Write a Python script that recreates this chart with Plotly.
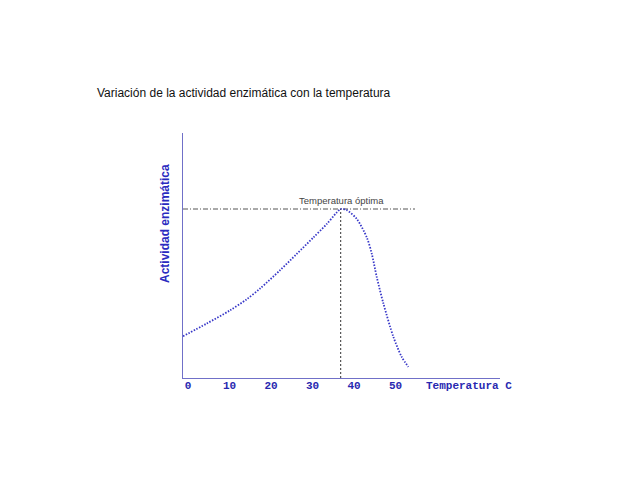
import plotly.graph_objects as go

# Data
temperatura = [0, 5.7, 11.3, 15.3, 18.6, 23.4, 27.4, 31.4, 34.6, 37.0, 38.0, 39.5, 41.9, 44.3, 45.5, 46.7, 48.3, 50.7, 52.7, 54.3]
actividad = [24.7, 32.2, 40.0, 46.5, 53.0, 63.8, 73.4, 83.1, 91.0, 97.8, 100.0, 99.3, 94.0, 83.1, 73.4, 59.6, 44.0, 24.3, 12.5, 6.6]
tick_vals = [0, 10, 20, 30, 40, 50]
tick_text = ["0", "10", "20", "30", "40", "50"]
temp_optima = 38.0
act_maxima = 100.0
ref_line_end = 55.9

W, H = 638, 479
OFF = 8  # page body margin offset
L, R, T, B = 183 - OFF, 500 - OFF, 133 - OFF, 378 - OFF

fig = go.Figure()

# horizontal dash-dot reference line at the maximum activity
fig.add_trace(go.Scatter(
    x=[0, ref_line_end], y=[act_maxima, act_maxima], mode="lines",
    line=dict(color="#555555", width=1, dash="5px,2px,1px,2px"),
    hoverinfo="skip", showlegend=False))

# vertical dashed line at the optimum temperature
fig.add_trace(go.Scatter(
    x=[temp_optima, temp_optima], y=[0, act_maxima], mode="lines",
    line=dict(color="#333333", width=1, dash="2px,2px"),
    hoverinfo="skip", showlegend=False))

# enzyme activity curve
fig.add_trace(go.Scatter(
    x=temperatura, y=actividad, mode="lines",
    line=dict(color="#3838c8", width=1.8, dash="1.5px,1.5px", shape="spline", smoothing=0.8),
    showlegend=False))

fig.add_annotation(
    x=temp_optima, y=act_maxima, xref="x", yref="y",
    text="Temperatura óptima", showarrow=False, yshift=9, xshift=1,
    font=dict(family="Liberation Sans, Arial", size=9.5, color="#444444"))

def to_paper_x(px):
    return (px - L) / (R - L)

def to_paper_y(py):
    return (B - py) / (B - T)

fig.add_annotation(
    x=to_paper_x(424 - OFF), y=to_paper_y(386 - OFF), xref="paper", yref="paper",
    text="Temperatura C", showarrow=False, xanchor="left", yanchor="middle",
    font=dict(family="Liberation Mono, Courier New", size=11, color="#2828b0", weight="bold"))

fig.add_annotation(
    x=to_paper_x(165 - OFF), y=to_paper_y(224 - OFF), xref="paper", yref="paper",
    text="Actividad enzimática", showarrow=False, textangle=-90,
    xanchor="center", yanchor="middle",
    font=dict(family="Liberation Sans, Arial", size=12, color="#2a2ac0", weight="bold"))

fig.update_layout(
    width=W, height=H, autosize=False,
    margin=dict(l=L, r=W - R, t=T, b=H - B, pad=0),
    paper_bgcolor="white", plot_bgcolor="white",
    title=dict(
        text="Variación de la actividad enzimática con la temperatura",
        xref="container", yref="container", x=(97 - OFF) / W, y=1 - (93 - OFF) / H,
        xanchor="left", yanchor="middle",
        font=dict(family="Liberation Sans, Arial", size=12, color="#111111")),
    xaxis=dict(
        range=[0, (R - L) / 4.15], showline=True, linecolor="#7070c8", linewidth=1.2,
        showgrid=False, zeroline=False, ticks="",
        tickmode="array", tickvals=tick_vals, ticktext=tick_text,
        ticklabelshift=5, ticklabelstandoff=-3,
        tickfont=dict(family="Liberation Mono, Courier New", size=11, color="#2828b0", weight="bold"),
        fixedrange=True),
    yaxis=dict(
        range=[0, (B - T) / 1.69], showline=True, linecolor="#7070c8", linewidth=1.2,
        showgrid=False, zeroline=False, ticks="", showticklabels=False,
        fixedrange=True),
)

fig.write_html("out.html")
